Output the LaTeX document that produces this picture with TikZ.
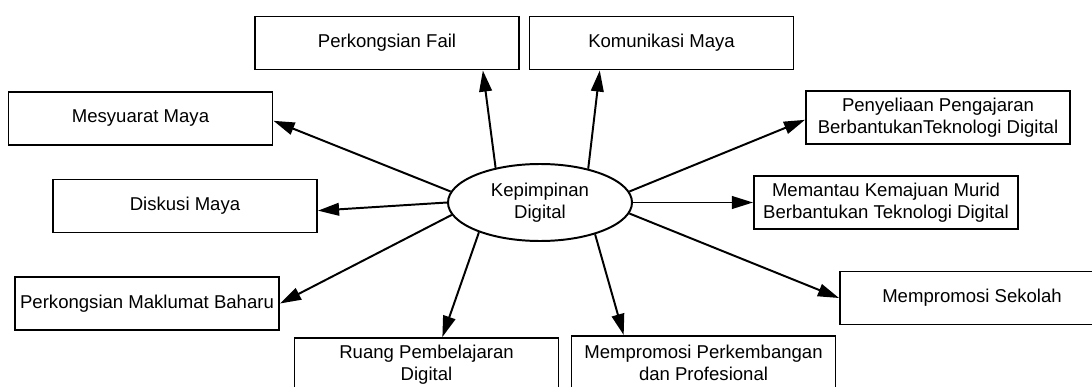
\documentclass[tikz,border=0pt]{standalone}
\usepackage{fontspec}
\setmainfont{Liberation Sans}
\usetikzlibrary{shapes.geometric, arrows.meta}

\begin{document}
\begin{tikzpicture}[x=0.025cm, y=-0.025cm,
  topic/.style={draw, line width=1.4pt, rectangle, inner sep=0pt, align=center,
    minimum width=264*0.025cm, minimum height=53*0.025cm,
    font=\fontsize{13.2}{15.6}\selectfont},
  core/.style={draw, line width=1.4pt, ellipse, inner sep=0pt, align=center,
    minimum width=184*0.025cm, minimum height=77*0.025cm,
    font=\fontsize{13.2}{15.6}\selectfont},
  link/.style={line width=1.4pt, -{Triangle[length=15pt, width=9pt]}}]

\useasboundingbox (0,0) rectangle (1092,387);

% centre
\node [core] (kd) at (540,202.5) {Kepimpinan\\Digital};

% top row
\node [topic] (fail) at (387,43) {Perkongsian Fail};
\node [topic] (komunikasi) at (661.5,43) {Komunikasi Maya};

% left side
\node [topic] (mesyuarat) at (140.5,118.5) {Mesyuarat Maya};
\node [topic] (diskusi) at (185,206) {Diskusi Maya};
\node [topic] (maklumat) at (147,303.5) {Perkongsian Maklumat Baharu};

% bottom row
\node [topic] (ruang) at (426.5,364.5) {Ruang Pembelajaran\\Digital};
\node [topic] (perkembangan) at (703.5,362.5) {Mempromosi Perkembangan\\dan Profesional};

% right side
\node [topic] (penyeliaan) at (938,117.5) {Penyeliaan Pengajaran\\BerbantukanTeknologi Digital};
\node [topic] (memantau) at (886,202.5) {Memantau Kemajuan Murid\\Berbantukan Teknologi Digital};
\node [topic] (sekolah) at (972,298) {Mempromosi Sekolah};

\draw [link] (kd.142) -- (fail.-16);
\draw [link] (kd.35) -- (komunikasi.-156);
\draw [link] (kd.173) -- (mesyuarat.-1);
\draw [link] (kd.west) -- (diskusi.-2);
\draw [link] (kd.188) -- (maklumat.east);
\draw [link] (kd.-154) -- (ruang.60);
\draw [link] (kd.-30) -- (perkembangan.161);
\draw [link] (kd.7) -- (penyeliaan.181);
\draw [link] (kd.east) -- (memantau.west);
\draw [link] (kd.-7) -- (sekolah.west);

\end{tikzpicture}
\end{document}
